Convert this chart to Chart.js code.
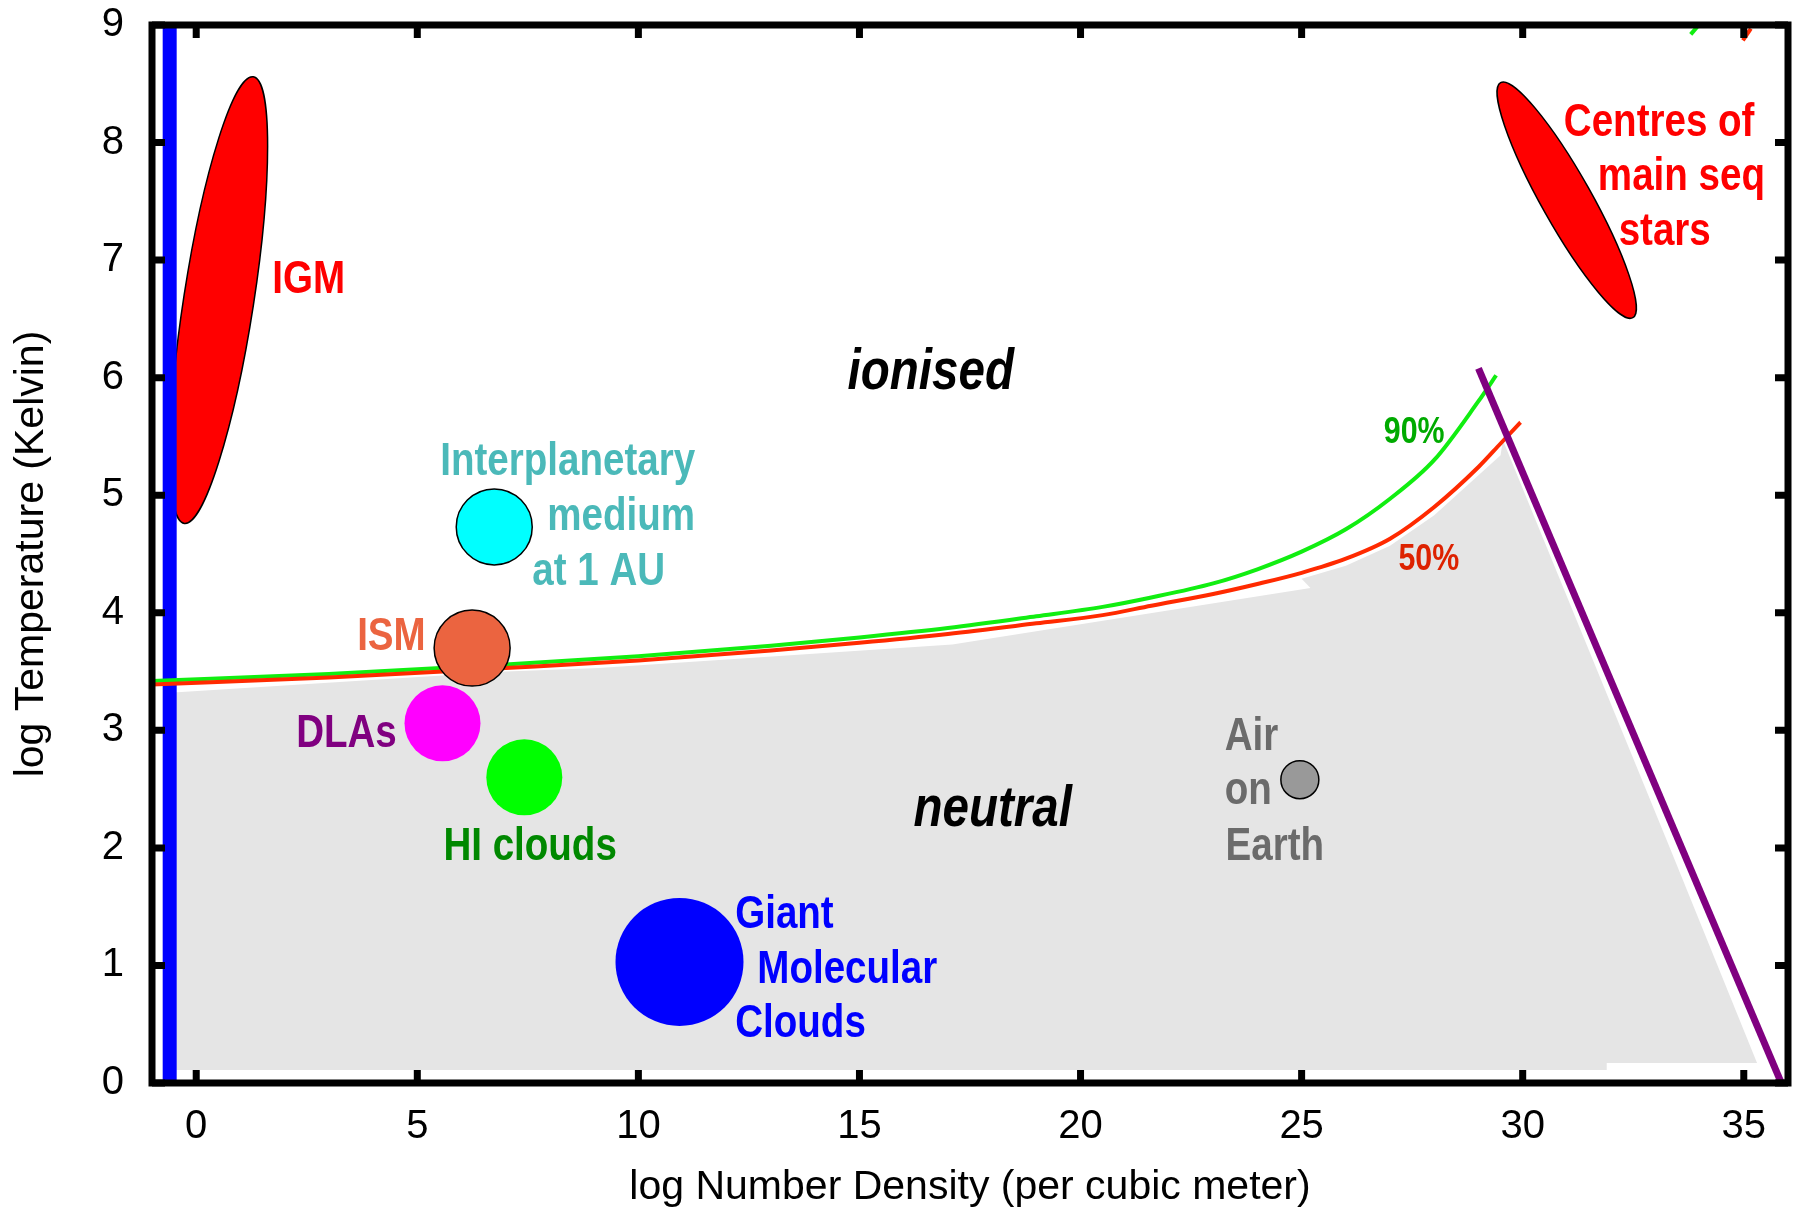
<!DOCTYPE html>
<html>
<head>
<meta charset="utf-8">
<script src="https://cdn.jsdelivr.net/npm/chart.js@4.4.1/dist/chart.umd.min.js"></script>
<style>
  html, body { margin: 0; padding: 0; background: #fff; }
  #wrap { width: 1799px; height: 1212px; }
</style>
</head>
<body>
<div id="wrap"><canvas id="chart" width="1799" height="1212"></canvas></div>
<script>
// tick labels
const xTicks = [0, 5, 10, 15, 20, 25, 30, 35];
const yTicks = [0, 1, 2, 3, 4, 5, 6, 7, 8, 9];

// 90% ionised curve (log n, log T)
const ion90Density = [-1, 3, 7, 10, 13, 15, 17, 19, 20.5, 21.6, 23, 24, 25, 26, 27, 28, 29, 29.4];
const ion90Temp    = [3.42, 3.48, 3.56, 3.63, 3.72, 3.79, 3.87, 3.97, 4.05, 4.13, 4.25, 4.37, 4.52, 4.71, 4.97, 5.30, 5.80, 6.02];
// re-entering piece at the top
const ion90TopDensity = [33.8, 33.96];
const ion90TopTemp    = [8.92, 8.99];

// 50% ionised curve
const ion50Density = [-1, 3, 7, 10, 13, 15, 17, 19, 20.5, 21.6, 23, 24, 25, 26, 27, 28, 29, 29.5, 29.95];
const ion50Temp    = [3.39, 3.45, 3.53, 3.595, 3.68, 3.745, 3.82, 3.91, 3.98, 4.06, 4.16, 4.245, 4.34, 4.46, 4.63, 4.90, 5.24, 5.44, 5.62];
const ion50TopDensity = [34.98, 35.16];
const ion50TopTemp    = [8.87, 8.97];

// neutral (grey) region outline
const neutralDensity = [-0.6, -0.6, 7, 9.1, 17.1, 17.6, 25.2, 25.0, 26.0, 27.0, 28.0, 29.0, 29.5, 29.55, 33.35, 35.3, 31.9, 31.9];
const neutralTemp    = [0.11, 3.32, 3.50, 3.53, 3.73, 3.76, 4.21, 4.29, 4.40, 4.57, 4.83, 5.17, 5.34, 5.47, 1.98, 0.17, 0.17, 0.11];

// degenerate limit (purple) and low density wall (blue)
const degenDensity = [29.0, 35.85];
const degenTemp    = [6.08, 0.0];
const wallDensity  = [-0.6, -0.6];
const wallTemp     = [0, 9];

// objects shown as discs
const discNames   = ['Interplanetary medium', 'ISM', 'DLAs', 'HI clouds', 'Giant Molecular Clouds', 'Air on Earth'];
const discDensity = [6.74, 6.24, 5.57, 7.42, 10.93, 24.96];
const discTemp    = [4.73, 3.70, 3.06, 2.60, 1.03, 2.58];

// elongated regions: two tips each
const igmTips   = [[1.29, 8.56], [-0.27, 4.76]];
const starsTips = [[29.5, 8.51], [32.49, 6.51]];

const zip = (xs, ys) => xs.map((x, i) => ({x: x, y: ys[i]}));

const discStyle = [
  {r: 38, fill: '#00ffff', stroke: '#000'},
  {r: 38, fill: '#eb6440', stroke: '#000'},
  {r: 38, fill: '#ff00ff', stroke: null},
  {r: 38, fill: '#00ff00', stroke: null},
  {r: 64, fill: '#0000ff', stroke: null},
  {r: 19, fill: '#999999', stroke: '#000'}
];

const BOLD = 'bold 47px "Liberation Sans", Arial, sans-serif';
const ITAL = 'italic bold 58px "Liberation Sans", Arial, sans-serif';
const SMALL = 'bold 37px "Liberation Sans", Arial, sans-serif';

const notes = [
  {text: 'IGM', x: 1.72, y: 6.72, color: '#ff0000', font: BOLD},
  {text: 'Centres of', x: 30.93, y: 8.06, color: '#ff0000', font: BOLD},
  {text: 'main seq', x: 31.70, y: 7.60, color: '#ff0000', font: BOLD},
  {text: 'stars', x: 32.17, y: 7.13, color: '#ff0000', font: BOLD},
  {text: 'ionised', x: 14.73, y: 5.90, color: '#000', font: ITAL},
  {text: 'neutral', x: 16.22, y: 2.19, color: '#000', font: ITAL},
  {text: 'Interplanetary', x: 5.52, y: 5.17, color: '#4bb9b9', font: BOLD},
  {text: 'medium', x: 7.94, y: 4.70, color: '#4bb9b9', font: BOLD},
  {text: 'at 1 AU', x: 7.60, y: 4.24, color: '#4bb9b9', font: BOLD},
  {text: 'ISM', x: 3.64, y: 3.68, color: '#eb6440', font: BOLD},
  {text: 'DLAs', x: 2.26, y: 2.86, color: '#800080', font: BOLD},
  {text: 'HI clouds', x: 5.59, y: 1.90, color: '#008800', font: BOLD},
  {text: 'Giant', x: 12.19, y: 1.32, color: '#0000ff', font: BOLD},
  {text: 'Molecular', x: 12.69, y: 0.85, color: '#0000ff', font: BOLD},
  {text: 'Clouds', x: 12.19, y: 0.39, color: '#0000ff', font: BOLD},
  {text: 'Air', x: 23.26, y: 2.83, color: '#6b6b6b', font: BOLD},
  {text: 'on', x: 23.26, y: 2.37, color: '#6b6b6b', font: BOLD},
  {text: 'Earth', x: 23.28, y: 1.90, color: '#6b6b6b', font: BOLD},
  {text: '90%', x: 26.86, y: 5.44, color: '#00aa00', font: SMALL},
  {text: '50%', x: 27.19, y: 4.36, color: '#dd2200', font: SMALL}
];

function toPx(chart, x, y) {
  return [chart.scales.x.getPixelForValue(x), chart.scales.y.getPixelForValue(y)];
}

function drawEllipse(chart, tips, halfWidth) {
  const ctx = chart.ctx;
  const a = toPx(chart, tips[0][0], tips[0][1]);
  const b = toPx(chart, tips[1][0], tips[1][1]);
  const cx = (a[0] + b[0]) / 2, cy = (a[1] + b[1]) / 2;
  const len = Math.hypot(b[0] - a[0], b[1] - a[1]) / 2;
  const ang = Math.atan2(b[1] - a[1], b[0] - a[0]);
  ctx.beginPath();
  ctx.ellipse(cx, cy, len, halfWidth, ang, 0, Math.PI * 2);
  ctx.fillStyle = '#ff0000';
  ctx.fill();
  ctx.lineWidth = 1.5;
  ctx.strokeStyle = '#000';
  ctx.stroke();
}

const backdrop = {
  id: 'backdrop',
  beforeDraw(chart) {
    const ctx = chart.ctx;
    ctx.save();
    ctx.fillStyle = '#fff';
    ctx.fillRect(0, 0, chart.width, chart.height);
    ctx.restore();
  },
  beforeDatasetsDraw(chart) {
    const ctx = chart.ctx, area = chart.chartArea;
    ctx.save();
    ctx.beginPath();
    ctx.rect(area.left, area.top, area.right - area.left, area.bottom - area.top);
    ctx.clip();
    ctx.beginPath();
    neutralDensity.forEach((x, i) => {
      const p = toPx(chart, x, neutralTemp[i]);
      if (i === 0) ctx.moveTo(p[0], p[1]); else ctx.lineTo(p[0], p[1]);
    });
    ctx.closePath();
    ctx.fillStyle = '#e5e5e5';
    ctx.fill();
    drawEllipse(chart, igmTips, 35);
    drawEllipse(chart, starsTips, 25);
    ctx.restore();
  }
};

const annotate = {
  id: 'annotate',
  afterDatasetsDraw(chart) {
    const ctx = chart.ctx;
    ctx.save();
    ctx.textAlign = 'left';
    ctx.textBaseline = 'alphabetic';
    notes.forEach(n => {
      const p = toPx(chart, n.x, n.y);
      ctx.save();
      ctx.translate(p[0], p[1]);
      ctx.scale(0.82, 1);
      ctx.font = n.font;
      ctx.fillStyle = n.color;
      ctx.fillText(n.text, 0, 0);
      ctx.restore();
    });
    ctx.restore();
  }
};

const frame = {
  id: 'frame',
  afterDraw(chart) {
    const ctx = chart.ctx, a = chart.chartArea;
    const sx = chart.scales.x, sy = chart.scales.y;
    const tick = 13;
    ctx.save();
    ctx.strokeStyle = '#000';
    ctx.lineWidth = 7;
    ctx.lineCap = 'butt';
    ctx.beginPath();
    xTicks.forEach(v => {
      const x = sx.getPixelForValue(v);
      ctx.moveTo(x, a.bottom); ctx.lineTo(x, a.bottom - tick);
      ctx.moveTo(x, a.top); ctx.lineTo(x, a.top + tick);
    });
    yTicks.forEach(v => {
      const y = sy.getPixelForValue(v);
      ctx.moveTo(a.left, y); ctx.lineTo(a.left + tick, y);
      ctx.moveTo(a.right, y); ctx.lineTo(a.right - tick, y);
    });
    ctx.stroke();
    ctx.lineJoin = 'miter';
    ctx.strokeRect(a.left, a.top, a.right - a.left, a.bottom - a.top);
    ctx.restore();
  }
};

const lineSet = (label, data, color, width, order) => ({
  label: label, data: data, showLine: true, borderColor: color, borderWidth: width,
  pointRadius: 0, cubicInterpolationMode: 'monotone', fill: false, order: order
});

const datasets = [
  lineSet('wall', zip(wallDensity, wallTemp), '#0000ff', 14, 9),
  lineSet('90%', zip(ion90Density, ion90Temp), '#11ee11', 4, 8),
  lineSet('90% top', zip(ion90TopDensity, ion90TopTemp), '#11ee11', 4, 8),
  lineSet('50%', zip(ion50Density, ion50Temp), '#ff2a00', 4, 7),
  lineSet('50% top', zip(ion50TopDensity, ion50TopTemp), '#ff2a00', 4, 7),
  lineSet('degenerate', zip(degenDensity, degenTemp), '#800080', 7, 6)
];
discNames.forEach((name, i) => {
  const s = discStyle[i];
  datasets.push({
    label: name,
    data: [{x: discDensity[i], y: discTemp[i]}],
    pointRadius: s.r,
    pointBackgroundColor: s.fill,
    pointBorderColor: s.stroke || s.fill,
    pointBorderWidth: s.stroke ? 1.5 : 0,
    order: 1
  });
});

const tickFont = {family: '"Liberation Sans", Arial, sans-serif', size: 40};

function noPad(s) {
  s.paddingTop = 0; s.paddingBottom = 0; s.paddingLeft = 0; s.paddingRight = 0;
}

new Chart(document.getElementById('chart'), {
  type: 'scatter',
  data: {datasets: datasets},
  options: {
    responsive: false,
    animation: false,
    devicePixelRatio: 1,
    layout: {autoPadding: false, padding: {top: 25, right: 11, left: 0, bottom: 0}},
    plugins: {legend: {display: false}, tooltip: {enabled: false}},
    scales: {
      x: {
        type: 'linear', min: -1, max: 36,
        afterBuildTicks: s => { s.ticks = xTicks.map(v => ({value: v})); },
        afterFit: s => { s.height = 129; noPad(s); },
        grid: {display: false, drawTicks: false},
        border: {display: false},
        ticks: {font: tickFont, color: '#000', padding: 20, maxRotation: 0, autoSkip: false},
        title: {display: true, text: 'log Number Density (per cubic meter)', color: '#000',
          font: {family: '"Liberation Sans", Arial, sans-serif', size: 41}, padding: {top: 0, bottom: 0}}
      },
      y: {
        type: 'linear', min: 0, max: 9,
        afterBuildTicks: s => { s.ticks = yTicks.map(v => ({value: v})); },
        afterFit: s => { s.width = 152; noPad(s); },
        grid: {display: false, drawTicks: false},
        border: {display: false},
        ticks: {font: tickFont, color: '#000', padding: 28, autoSkip: false},
        title: {display: true, text: 'log Temperature (Kelvin)', color: '#000',
          font: {family: '"Liberation Sans", Arial, sans-serif', size: 41}, padding: {top: 7, bottom: 0}}
      }
    }
  },
  plugins: [backdrop, annotate, frame]
});
</script>
</body>
</html>
